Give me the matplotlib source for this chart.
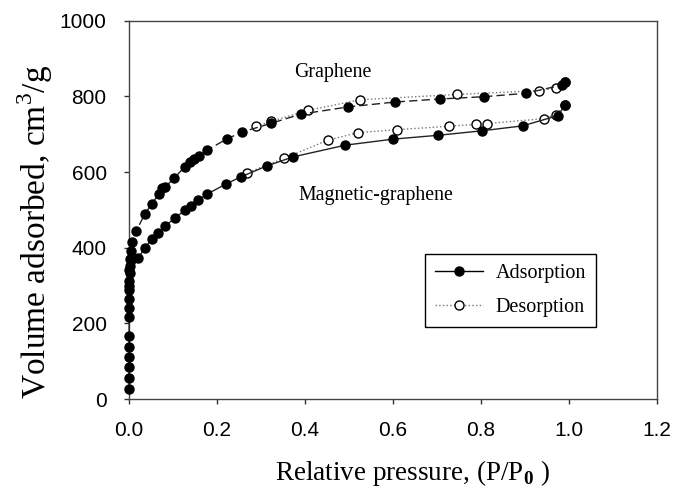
import matplotlib
matplotlib.use("Agg")
import matplotlib.pyplot as plt

# graphene, adsorption branch (filled)
gr_ads_p = [0.0005, 0.001, 0.002, 0.004, 0.007, 0.017, 0.036, 0.052, 0.068, 0.075, 0.083,
            0.102, 0.127, 0.139, 0.148, 0.159, 0.178, 0.222, 0.258, 0.324, 0.391, 0.498,
            0.605, 0.707, 0.807, 0.902, 0.985, 0.992]
gr_ads_v = [300, 340, 370, 392, 415, 445, 489, 516, 542, 557, 561,
            583, 614, 627, 634, 643, 658, 687, 706, 729, 753, 772,
            785, 793, 799, 808, 830, 837]
# graphene, desorption branch (open)
gr_des_p = [0.992, 0.970, 0.932, 0.746, 0.525, 0.408, 0.324, 0.290]
gr_des_v = [837, 821, 815, 805, 791, 763, 734, 721]

# magnetic-graphene, adsorption branch (filled)
mg_ads_p = [0.0003, 0.0003, 0.0003, 0.0003, 0.0003, 0.0004, 0.0005, 0.0006, 0.0008, 0.001,
            0.0012, 0.0015, 0.002, 0.004, 0.021, 0.036, 0.053, 0.067, 0.083, 0.105, 0.127,
            0.140, 0.158, 0.178, 0.220, 0.254, 0.313, 0.373, 0.492, 0.601, 0.702, 0.803,
            0.895, 0.975, 0.992]
mg_ads_v = [26, 56, 84, 112, 139, 168, 216, 240, 264, 288, 311, 333, 352, 368, 372, 400,
            424, 439, 458, 479, 499, 511, 526, 542, 568, 587, 616, 640, 671, 687, 697, 709,
            722, 749, 777]
# magnetic-graphene, desorption branch (open)
mg_des_p = [0.992, 0.970, 0.944, 0.813, 0.790, 0.727, 0.610, 0.520, 0.452, 0.352, 0.269]
mg_des_v = [777, 752, 741, 728, 726, 721, 712, 704, 684, 636, 598]

x_ticks = [0.0, 0.2, 0.4, 0.6, 0.8, 1.0, 1.2]
y_ticks = [0, 200, 400, 600, 800, 1000]

serif = ["Liberation Serif", "DejaVu Serif"]
plt.rcParams["font.family"] = ["Liberation Sans", "DejaVu Sans"]
plt.rcParams["mathtext.fontset"] = "custom"
plt.rcParams["mathtext.rm"] = "Liberation Serif"
plt.rcParams["mathtext.bf"] = "Liberation Serif:bold"

fig = plt.figure(figsize=(6.75, 4.91), dpi=100)
ax = fig.add_axes([0.191, 0.187, 0.782, 0.771])

ms = 6.5
des_style = dict(color="#777777", ls=":", lw=1.0, marker="o", ms=ms,
                 mfc="white", mec="black", mew=1.0, zorder=3, clip_on=False)

ax.plot(gr_des_p, gr_des_v, **des_style)
ax.plot(mg_des_p, mg_des_v, **des_style)
ax.plot(gr_ads_p, gr_ads_v, color="#222222", ls=(0, (6, 3)), lw=1.0, marker="o", ms=ms,
        mfc="black", mec="black", zorder=4, clip_on=False)
ax.plot(mg_ads_p, mg_ads_v, color="#222222", ls="-", lw=1.0, marker="o", ms=ms,
        mfc="black", mec="black", zorder=4, clip_on=False)

# legend proxies
h1, = ax.plot([], [], color="black", ls="-", lw=1.0, marker="o", ms=ms, mfc="black", mec="black")
h2, = ax.plot([], [], color="#777777", ls=":", lw=1.0, marker="o", ms=ms, mfc="white", mec="black")
leg = ax.legend([h1, h2], ["Adsorption", "Desorption"], loc="upper left",
                bbox_to_anchor=(0.561, 0.383), borderaxespad=0, fancybox=False,
                edgecolor="black", framealpha=1, prop={"family": serif, "size": 14.5},
                handlelength=2.4, handletextpad=0.6, borderpad=0.5, labelspacing=0.72)
leg.get_frame().set_linewidth(1.0)

ax.text(0.464, 864, "Graphene", family=serif, fontsize=14.3, ha="center", va="center")
ax.text(0.561, 539, "Magnetic-graphene", family=serif, fontsize=14.3, ha="center", va="center")

ax.set_xlim(0, 1.2)
ax.set_ylim(0, 1000)
ax.set_xticks(x_ticks)
ax.set_xticklabels([f"{t:.1f}" for t in x_ticks])
ax.set_yticks(y_ticks)
ax.tick_params(direction="out", labelsize=15, length=3.5, width=1.0, colors="#333333",
               labelcolor="black")
ax.tick_params(axis="x", pad=12.5)
ax.tick_params(axis="y", pad=12.5)
for sp in ax.spines.values():
    sp.set_color("#444444")
    sp.set_linewidth(1.0)

fig.text(412 / 675, 1 - 480 / 491, "Relative pressure, (P/P$_\\mathbf{0}$ )", family=serif,
         fontsize=19.5, ha="center", va="baseline")
fig.text(35 / 675, 1 - 232 / 491, "Volume adsorbed, cm$^3$/g", family=serif,
         fontsize=24, ha="center", va="center", rotation=90)

fig.savefig("out.png", dpi=100)
